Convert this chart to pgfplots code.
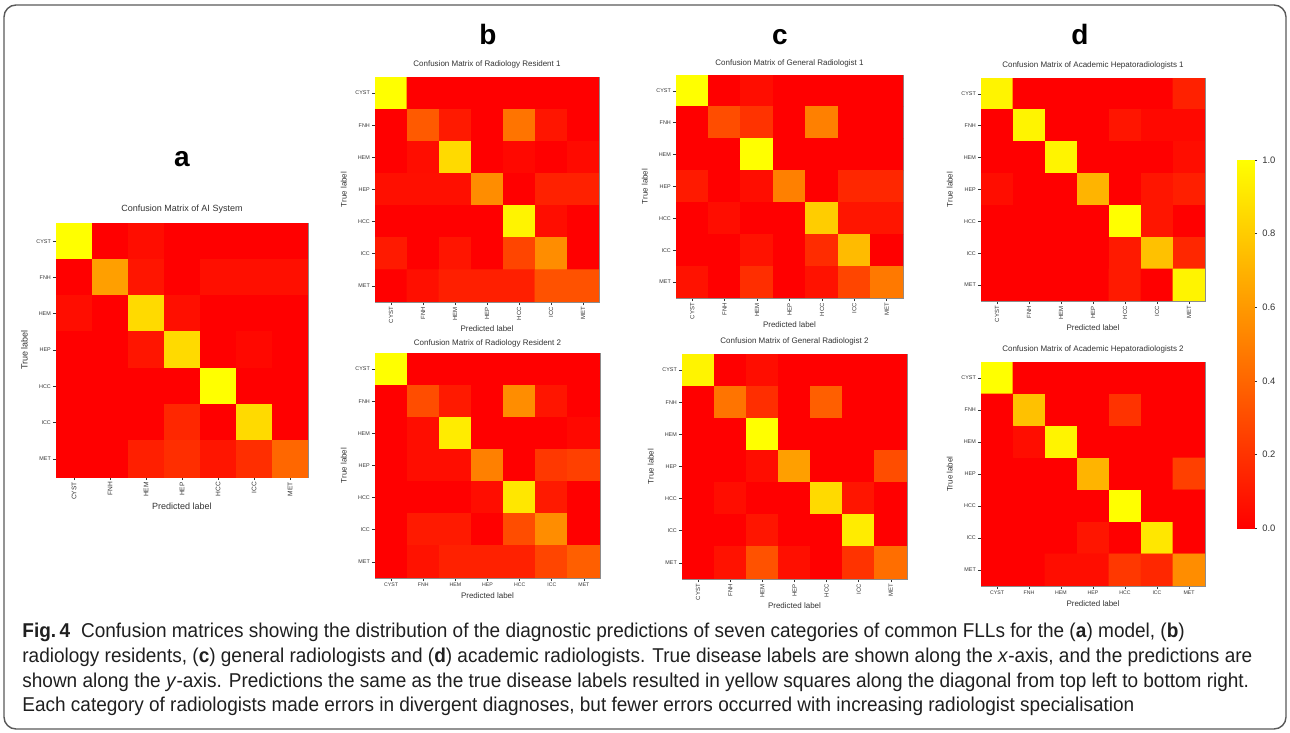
\documentclass[border=0pt]{standalone}
\usepackage{fontspec}
\setmainfont{Liberation Sans}
\newfontfamily\capfont{Liberation Sans}[FakeStretch=0.95]
\usepackage{pgfplots}
\pgfplotsset{compat=1.18}
\definecolor{txt}{HTML}{333333}
\definecolor{frame}{HTML}{8C8C8C}
\newcommand{\fs}[1]{\fontsize{#1}{#1}\selectfont}
\pgfplotsset{
  cm/.style={
    scale only axis, anchor=north west,
    xmin=-0.5, xmax=6.5, ymin=-0.5, ymax=6.5, y dir=reverse, enlargelimits=false,
    xtick={0,...,6}, ytick={0,...,6},
    xticklabels={CYST,FNH,HEM,HEP,HCC,ICC,MET},
    yticklabels={CYST,FNH,HEM,HEP,HCC,ICC,MET},
    colormap={autumn}{rgb=(1,0,0) rgb=(1,1,0)},
    point meta min=0, point meta max=1,
    axis line style={draw=frame, line width=0.4pt},
    tick style={draw=txt, line width=0.3pt},
    major tick length=1.6pt, tick align=outside,
    xtick pos=bottom, ytick pos=left,
    yticklabel style={font=\fs{2.7}, text=txt, inner sep=0.8pt},
    xticklabel style={font=\fs{2.6}, text=txt, inner sep=0.8pt},
    xlabel={Predicted label}, ylabel={True label},
    label style={font=\fs{4}, text=txt},
    xlabel shift=-1.5pt,
    every axis title/.style={at={(0.5,1)}, anchor=center, font=\fs{4}, text=txt},
  },
  rx/.style={xticklabel style={rotate=90, anchor=east, font=\fs{3}}, xlabel shift=-3pt},
}
\begin{document}
\begin{tikzpicture}
\useasboundingbox (0,0) rectangle (645pt,-366.5pt);
\draw[rounded corners=6pt, line width=0.7pt, draw=black!65] (2pt,-2.5pt) rectangle (643pt,-364.5pt);

% panel letters
\node[anchor=base, font=\bfseries\fs{14}] at (91pt,-83pt) {a};
\node[anchor=base, font=\bfseries\fs{14}] at (244pt,-22.5pt) {b};
\node[anchor=base, font=\bfseries\fs{14}] at (390pt,-22.5pt) {c};
\node[anchor=base, font=\bfseries\fs{14}] at (540pt,-22.5pt) {d};

% (a) AI system
\begin{axis}[cm, rx, at={(28pt,-111.5pt)}, width=126pt, height=127pt,
  title={Confusion Matrix of AI System}, title style={yshift=7pt, font=\fs{4.5}},
  label style={font=\fs{4.5}}, xticklabel style={font=\fs{3.3}}, xlabel shift=-2.5pt]
\addplot[matrix plot*, mesh/cols=7, point meta=explicit] coordinates {
(0,0)[1.00] (1,0)[0.00] (2,0)[0.05] (3,0)[0.00] (4,0)[0.00] (5,0)[0.00] (6,0)[0.00]
(0,1)[0.00] (1,1)[0.62] (2,1)[0.08] (3,1)[0.00] (4,1)[0.06] (5,1)[0.06] (6,1)[0.06]
(0,2)[0.05] (1,2)[0.00] (2,2)[0.85] (3,2)[0.06] (4,2)[0.00] (5,2)[0.00] (6,2)[0.00]
(0,3)[0.00] (1,3)[0.00] (2,3)[0.08] (3,3)[0.85] (4,3)[0.00] (5,3)[0.03] (6,3)[0.00]
(0,4)[0.00] (1,4)[0.00] (2,4)[0.00] (3,4)[0.00] (4,4)[1.00] (5,4)[0.00] (6,4)[0.00]
(0,5)[0.00] (1,5)[0.00] (2,5)[0.00] (3,5)[0.15] (4,5)[0.00] (5,5)[0.85] (6,5)[0.00]
(0,6)[0.00] (1,6)[0.00] (2,6)[0.12] (3,6)[0.18] (4,6)[0.08] (5,6)[0.18] (6,6)[0.40]
};
\end{axis}

% (b1) Radiology Resident 1
\begin{axis}[cm, rx, at={(187.5pt,-38.5pt)}, width=112pt, height=112.5pt,
  title={Confusion Matrix of Radiology Resident 1}, title style={yshift=6.5pt}]
\addplot[matrix plot*, mesh/cols=7, point meta=explicit] coordinates {
(0,0)[1.00] (1,0)[0.00] (2,0)[0.00] (3,0)[0.00] (4,0)[0.00] (5,0)[0.00] (6,0)[0.00]
(0,1)[0.00] (1,1)[0.35] (2,1)[0.10] (3,1)[0.00] (4,1)[0.45] (5,1)[0.08] (6,1)[0.00]
(0,2)[0.00] (1,2)[0.05] (2,2)[0.85] (3,2)[0.00] (4,2)[0.03] (5,2)[0.00] (6,2)[0.04]
(0,3)[0.06] (1,3)[0.06] (2,3)[0.06] (3,3)[0.55] (4,3)[0.00] (5,3)[0.13] (6,3)[0.13]
(0,4)[0.00] (1,4)[0.00] (2,4)[0.00] (3,4)[0.00] (4,4)[0.95] (5,4)[0.05] (6,4)[0.00]
(0,5)[0.10] (1,5)[0.00] (2,5)[0.08] (3,5)[0.00] (4,5)[0.27] (5,5)[0.55] (6,5)[0.00]
(0,6)[0.00] (1,6)[0.06] (2,6)[0.12] (3,6)[0.12] (4,6)[0.12] (5,6)[0.32] (6,6)[0.32]
};
\end{axis}

% (b2) Radiology Resident 2
\begin{axis}[cm, at={(187.5pt,-176.5pt)}, width=112.5pt, height=112.5pt,
  title={Confusion Matrix of Radiology Resident 2}, title style={yshift=5pt}]
\addplot[matrix plot*, mesh/cols=7, point meta=explicit] coordinates {
(0,0)[1.00] (1,0)[0.00] (2,0)[0.00] (3,0)[0.00] (4,0)[0.00] (5,0)[0.00] (6,0)[0.00]
(0,1)[0.00] (1,1)[0.30] (2,1)[0.10] (3,1)[0.00] (4,1)[0.55] (5,1)[0.08] (6,1)[0.00]
(0,2)[0.00] (1,2)[0.05] (2,2)[0.92] (3,2)[0.00] (4,2)[0.00] (5,2)[0.00] (6,2)[0.03]
(0,3)[0.00] (1,3)[0.05] (2,3)[0.05] (3,3)[0.50] (4,3)[0.00] (5,3)[0.22] (6,3)[0.25]
(0,4)[0.00] (1,4)[0.00] (2,4)[0.00] (3,4)[0.05] (4,4)[0.90] (5,4)[0.10] (6,4)[0.00]
(0,5)[0.00] (1,5)[0.10] (2,5)[0.10] (3,5)[0.00] (4,5)[0.30] (5,5)[0.55] (6,5)[0.00]
(0,6)[0.00] (1,6)[0.07] (2,6)[0.13] (3,6)[0.13] (4,6)[0.13] (5,6)[0.27] (6,6)[0.37]
};
\end{axis}

% (c1) General Radiologist 1
\begin{axis}[cm, rx, at={(338pt,-37.5pt)}, width=113.5pt, height=111.5pt,
  title={Confusion Matrix of General Radiologist 1}, title style={yshift=6pt}]
\addplot[matrix plot*, mesh/cols=7, point meta=explicit] coordinates {
(0,0)[1.00] (1,0)[0.00] (2,0)[0.05] (3,0)[0.00] (4,0)[0.00] (5,0)[0.00] (6,0)[0.00]
(0,1)[0.00] (1,1)[0.30] (2,1)[0.20] (3,1)[0.00] (4,1)[0.50] (5,1)[0.00] (6,1)[0.00]
(0,2)[0.00] (1,2)[0.00] (2,2)[1.00] (3,2)[0.00] (4,2)[0.00] (5,2)[0.00] (6,2)[0.00]
(0,3)[0.10] (1,3)[0.00] (2,3)[0.05] (3,3)[0.50] (4,3)[0.00] (5,3)[0.15] (6,3)[0.15]
(0,4)[0.00] (1,4)[0.05] (2,4)[0.00] (3,4)[0.00] (4,4)[0.80] (5,4)[0.08] (6,4)[0.08]
(0,5)[0.00] (1,5)[0.00] (2,5)[0.07] (3,5)[0.00] (4,5)[0.17] (5,5)[0.73] (6,5)[0.00]
(0,6)[0.07] (1,6)[0.00] (2,6)[0.18] (3,6)[0.00] (4,6)[0.07] (5,6)[0.27] (6,6)[0.47]
};
\end{axis}

% (c2) General Radiologist 2
\begin{axis}[cm, rx, at={(341pt,-177pt)}, width=112.5pt, height=112.5pt,
  title={Confusion Matrix of General Radiologist 2}, title style={yshift=6.5pt}]
\addplot[matrix plot*, mesh/cols=7, point meta=explicit] coordinates {
(0,0)[0.95] (1,0)[0.00] (2,0)[0.05] (3,0)[0.00] (4,0)[0.00] (5,0)[0.00] (6,0)[0.00]
(0,1)[0.00] (1,1)[0.45] (2,1)[0.18] (3,1)[0.00] (4,1)[0.37] (5,1)[0.00] (6,1)[0.00]
(0,2)[0.00] (1,2)[0.00] (2,2)[1.00] (3,2)[0.00] (4,2)[0.00] (5,2)[0.00] (6,2)[0.00]
(0,3)[0.00] (1,3)[0.00] (2,3)[0.05] (3,3)[0.62] (4,3)[0.00] (5,3)[0.00] (6,3)[0.30]
(0,4)[0.00] (1,4)[0.05] (2,4)[0.00] (3,4)[0.00] (4,4)[0.85] (5,4)[0.08] (6,4)[0.00]
(0,5)[0.00] (1,5)[0.00] (2,5)[0.08] (3,5)[0.00] (4,5)[0.00] (5,5)[0.92] (6,5)[0.00]
(0,6)[0.00] (1,6)[0.07] (2,6)[0.32] (3,6)[0.06] (4,6)[0.00] (5,6)[0.20] (6,6)[0.43]
};
\end{axis}

% (d1) Academic Hepatoradiologists 1
\begin{axis}[cm, rx, at={(490.5pt,-39pt)}, width=112pt, height=111.5pt,
  title={Confusion Matrix of Academic Hepatoradiologists 1}, title style={yshift=6.5pt}]
\addplot[matrix plot*, mesh/cols=7, point meta=explicit] coordinates {
(0,0)[0.95] (1,0)[0.00] (2,0)[0.00] (3,0)[0.00] (4,0)[0.00] (5,0)[0.00] (6,0)[0.13]
(0,1)[0.00] (1,1)[0.95] (2,1)[0.00] (3,1)[0.00] (4,1)[0.08] (5,1)[0.03] (6,1)[0.03]
(0,2)[0.00] (1,2)[0.00] (2,2)[0.95] (3,2)[0.00] (4,2)[0.00] (5,2)[0.00] (6,2)[0.05]
(0,3)[0.05] (1,3)[0.00] (2,3)[0.00] (3,3)[0.70] (4,3)[0.00] (5,3)[0.08] (6,3)[0.12]
(0,4)[0.00] (1,4)[0.00] (2,4)[0.00] (3,4)[0.00] (4,4)[1.00] (5,4)[0.08] (6,4)[0.00]
(0,5)[0.00] (1,5)[0.00] (2,5)[0.00] (3,5)[0.00] (4,5)[0.10] (5,5)[0.75] (6,5)[0.15]
(0,6)[0.00] (1,6)[0.00] (2,6)[0.00] (3,6)[0.00] (4,6)[0.10] (5,6)[0.00] (6,6)[0.95]
};
\end{axis}

% (d2) Academic Hepatoradiologists 2
\begin{axis}[cm, at={(490.5pt,-181pt)}, width=112pt, height=112pt,
  title={Confusion Matrix of Academic Hepatoradiologists 2}, title style={yshift=6.5pt}]
\addplot[matrix plot*, mesh/cols=7, point meta=explicit] coordinates {
(0,0)[1.00] (1,0)[0.00] (2,0)[0.00] (3,0)[0.00] (4,0)[0.00] (5,0)[0.00] (6,0)[0.00]
(0,1)[0.00] (1,1)[0.75] (2,1)[0.00] (3,1)[0.00] (4,1)[0.20] (5,1)[0.00] (6,1)[0.00]
(0,2)[0.00] (1,2)[0.05] (2,2)[0.95] (3,2)[0.00] (4,2)[0.00] (5,2)[0.00] (6,2)[0.00]
(0,3)[0.00] (1,3)[0.00] (2,3)[0.00] (3,3)[0.70] (4,3)[0.00] (5,3)[0.00] (6,3)[0.25]
(0,4)[0.00] (1,4)[0.00] (2,4)[0.00] (3,4)[0.00] (4,4)[1.00] (5,4)[0.00] (6,4)[0.00]
(0,5)[0.00] (1,5)[0.00] (2,5)[0.00] (3,5)[0.08] (4,5)[0.00] (5,5)[0.90] (6,5)[0.00]
(0,6)[0.00] (1,6)[0.00] (2,6)[0.05] (3,6)[0.05] (4,6)[0.22] (5,6)[0.15] (6,6)[0.55]
};
\end{axis}

% colour bar
\begin{axis}[at={(618.5pt,-80pt)}, anchor=north west, scale only axis, width=8.5pt, height=184pt,
  xmin=0, xmax=1, ymin=0, ymax=1, enlargelimits=false, xtick=\empty,
  ytick={0,0.2,0.4,0.6,0.8,1}, ytick pos=right, yticklabel pos=right,
  yticklabel style={font=\fs{4.7}, text=txt, xshift=-1pt, /pgf/number format/.cd, fixed, fixed zerofill, precision=1, assume math mode=true},
  colormap={autumn}{rgb=(1,0,0) rgb=(1,1,0)}, point meta min=0, point meta max=1,
  axis line style={draw=frame, line width=0.4pt}, major tick length=1.6pt, tick align=outside,
  tick style={draw=txt, line width=0.3pt}]
\addplot[surf, shader=interp, mesh/cols=2, point meta=y] coordinates {(0,0) (1,0) (0,1) (1,1)};
\end{axis}

% caption
\begin{scope}[every node/.style={anchor=base west, inner sep=0pt, font=\capfont\fs{10}, text=black!88}]
\node at (11pt,-318.5pt) {\textbf{Fig.\,4}\hspace{0.55em}Confusion matrices showing the distribution of the diagnostic predictions of seven categories of common FLLs for the (\textbf{a}) model, (\textbf{b})};
\node at (11pt,-331pt) {radiology residents, (\textbf{c}) general radiologists and (\textbf{d}) academic radiologists. True disease labels are shown along the \textit{x}-axis, and the predictions are};
\node at (11pt,-343.5pt) {shown along the \textit{y}-axis. Predictions the same as the true disease labels resulted in yellow squares along the diagonal from top left to bottom right.};
\node at (11pt,-355.5pt) {Each category of radiologists made errors in divergent diagnoses, but fewer errors occurred with increasing radiologist specialisation};
\end{scope}
\end{tikzpicture}
\end{document}
